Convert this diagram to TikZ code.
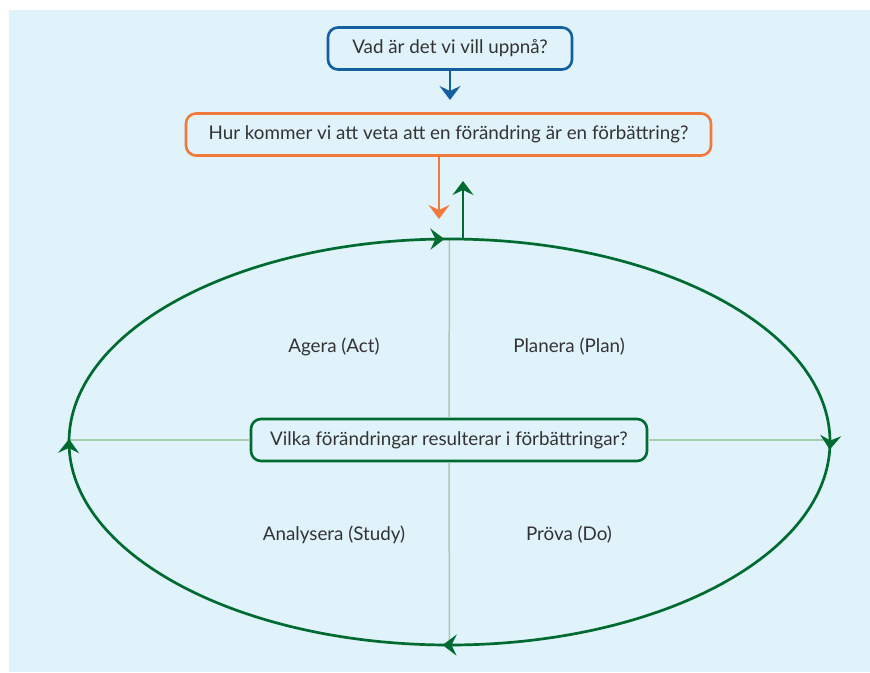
\documentclass[tikz,border=0pt]{standalone}
\usepackage{fontspec}
\setmainfont{Lato}
\usetikzlibrary{arrows.meta,decorations.markings}
\definecolor{bgblue}{HTML}{E0F2FA}
\definecolor{boxblue}{HTML}{145F9E}
\definecolor{boxorange}{HTML}{F07A3C}
\definecolor{cycgreen}{HTML}{006B30}
\definecolor{axisgreen}{HTML}{A6CDB0}
\definecolor{txt}{HTML}{333333}
\tikzset{cyctip/.tip={Stealth[length=14pt,width=21pt,inset=5pt]}}
\begin{document}
\begin{tikzpicture}[x=1pt,y=-1pt,
  box/.style={draw, line width=2.6pt, rounded corners=10pt, fill=bgblue, text=txt,
    font=\fontsize{18.8}{22}\selectfont, inner sep=0pt, minimum height=42pt},
  tipline/.style={line width=2.6pt, -{cyctip}},
  lbl/.style={text=txt, font=\fontsize{18.8}{22}\selectfont, inner sep=0pt},
  axis/.style={axisgreen, line width=1.5pt}]
\useasboundingbox (0,0) rectangle (870,672);
\fill[bgblue] (9,10) rectangle (870,672);

\node[box, draw=boxblue, minimum width=244pt] (goal) at (450,48.5) {Vad är det vi vill uppnå?};
\node[box, draw=boxorange, minimum width=525pt] (measure) at (448.5,134.5) {Hur kommer vi att veta att en förändring är en förbättring?};

\coordinate (L) at (69,440);
\coordinate (R) at (830,440);
\coordinate (T) at (449.5,239);
\coordinate (B) at (449.5,645);

\node[box, draw=cycgreen, minimum width=396pt] (change) at (449,440) {Vilka förändringar resulterar i förbättringar?};

\draw[axis] (L) -- (change.west);
\draw[axis] (change.east) -- (R);
\draw[axis] (T) -- (change.north);
\draw[axis] (change.south) -- (B);

\draw[cycgreen, line width=2.7pt, postaction={decorate},
  decoration={markings,
    mark=at position 0.2527 with {\arrowreversed{cyctip}},
    mark=at position 0.4984 with {\arrowreversed{cyctip}},
    mark=at position 0.7463 with {\arrowreversed{cyctip}},
    mark=at position 0.996 with {\arrowreversed{cyctip}}}]
  (449.5,442) ellipse [x radius=380.5pt, y radius=203pt];

\coordinate (bluetip) at (450,100);
\draw[boxblue, tipline] (goal.south) -- (bluetip);
\coordinate (orangetip) at (439,219);
\draw[boxorange, tipline] (measure.south -| orangetip) -- (orangetip);
\coordinate (greenstart) at (463,240);
\coordinate (greentip) at (463,181);
\draw[cycgreen, tipline] (greenstart) -- (greentip);

\node[lbl] (act) at (334,347) {Agera (Act)};
\node[lbl] (plan) at (569,347) {Planera (Plan)};
\node[lbl] (study) at (334,535) {Analysera (Study)};
\node[lbl] (do) at (569,535) {Pröva (Do)};
\end{tikzpicture}
\end{document}
